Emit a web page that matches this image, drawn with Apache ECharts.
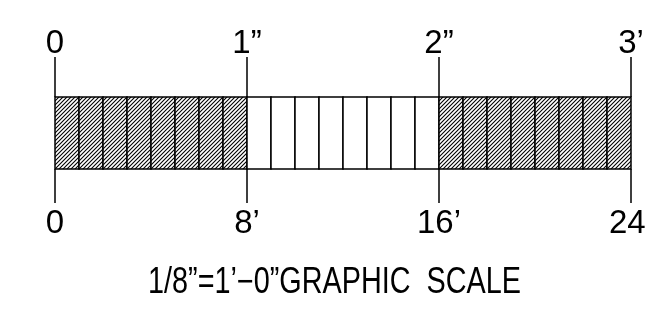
<!DOCTYPE html>
<html>
<head>
<meta charset="utf-8">
<script src="https://cdn.jsdelivr.net/npm/echarts@6/dist/echarts.min.js"></script>
<style>
  html, body { margin: 0; padding: 0; background: #fff; }
  #main { width: 647px; height: 312px; }
</style>
</head>
<body>
<div id="main"></div>
<script>
// scale divisions in feet (1/8" = 1'), hatched = 1
var divStart = [0, 1, 2, 3, 4, 5, 6, 7, 8, 9, 10, 11, 12, 13, 14, 15, 16, 17, 18, 19, 20, 21, 22, 23]
var divEnd = [1, 2, 3, 4, 5, 6, 7, 8, 9, 10, 11, 12, 13, 14, 15, 16, 17, 18, 19, 20, 21, 22, 23, 24]
var hatched = [1, 1, 1, 1, 1, 1, 1, 1, 0, 0, 0, 0, 0, 0, 0, 0, 1, 1, 1, 1, 1, 1, 1, 1]
var majorTicks = [0, 8, 16, 24]
var inchLabels = ['0', '1”', '2”', '3’']
var footLabels = ['0', '8’', '16’', '24’']
var titleText = '1/8”=1’−0”GRAPHIC  SCALE'

var font = '"Liberation Sans", Arial, sans-serif'

// diagonal hatch pattern
var pc = document.createElement('canvas')
pc.width = 4
pc.height = 4
var ctx = pc.getContext('2d')
ctx.fillStyle = '#fff'
ctx.fillRect(0, 0, 4, 4)
ctx.strokeStyle = '#000'
ctx.lineWidth = 1.1
ctx.beginPath()
ctx.moveTo(-1, 5); ctx.lineTo(5, -1)
ctx.moveTo(-3, 3); ctx.lineTo(3, -3)
ctx.moveTo(1, 7); ctx.lineTo(7, 1)
ctx.stroke()
var hatch = { image: pc, repeat: 'repeat' }

var data = divStart.map(function (s, i) {
  return [s, divEnd[i], hatched[i]]
})

function labelFor (list) {
  return function (v) {
    var i = majorTicks.indexOf(v)
    return i >= 0 ? list[i] : ''
  }
}

var chart = echarts.init(document.getElementById('main'))
var option = {
  animation: false,
  backgroundColor: '#fff',
  graphic: [{
    type: 'text',
    left: 148,
    top: 265,
    scaleX: 0.8,
    style: { text: titleText, font: '36px ' + font, fill: '#000' }
  }],
  grid: { left: 55, right: 16, top: 97, bottom: 143, outerBoundsMode: 'none' },
  xAxis: [
    {
      type: 'value', position: 'bottom', min: 0, max: 24, interval: 8,
      axisLine: { show: false },
      axisTick: { show: true, length: 34, lineStyle: { color: '#000', width: 1.5 } },
      splitLine: { show: false },
      axisLabel: {
        margin: 38, formatter: labelFor(footLabels),
        fontFamily: font, fontSize: 33, color: '#000'
      }
    },
    {
      type: 'value', position: 'top', min: 0, max: 24, interval: 8,
      axisLine: { show: false },
      axisTick: { show: true, length: 40, lineStyle: { color: '#000', width: 1.5 } },
      splitLine: { show: false },
      axisLabel: {
        margin: 37, formatter: labelFor(inchLabels),
        fontFamily: font, fontSize: 33, color: '#000'
      }
    }
  ],
  yAxis: { type: 'value', min: 0, max: 1, show: false },
  series: [{
    type: 'custom',
    xAxisIndex: 0,
    data: data,
    renderItem: function (params, api) {
      var p0 = api.coord([api.value(0), 0])
      var p1 = api.coord([api.value(1), 1])
      return {
        type: 'rect',
        shape: { x: p0[0], y: p1[1], width: p1[0] - p0[0], height: p0[1] - p1[1] },
        style: {
          fill: api.value(2) ? hatch : '#fff',
          stroke: '#000',
          lineWidth: 1.5
        }
      }
    }
  }]
}
chart.setOption(option)
</script>
</body>
</html>
